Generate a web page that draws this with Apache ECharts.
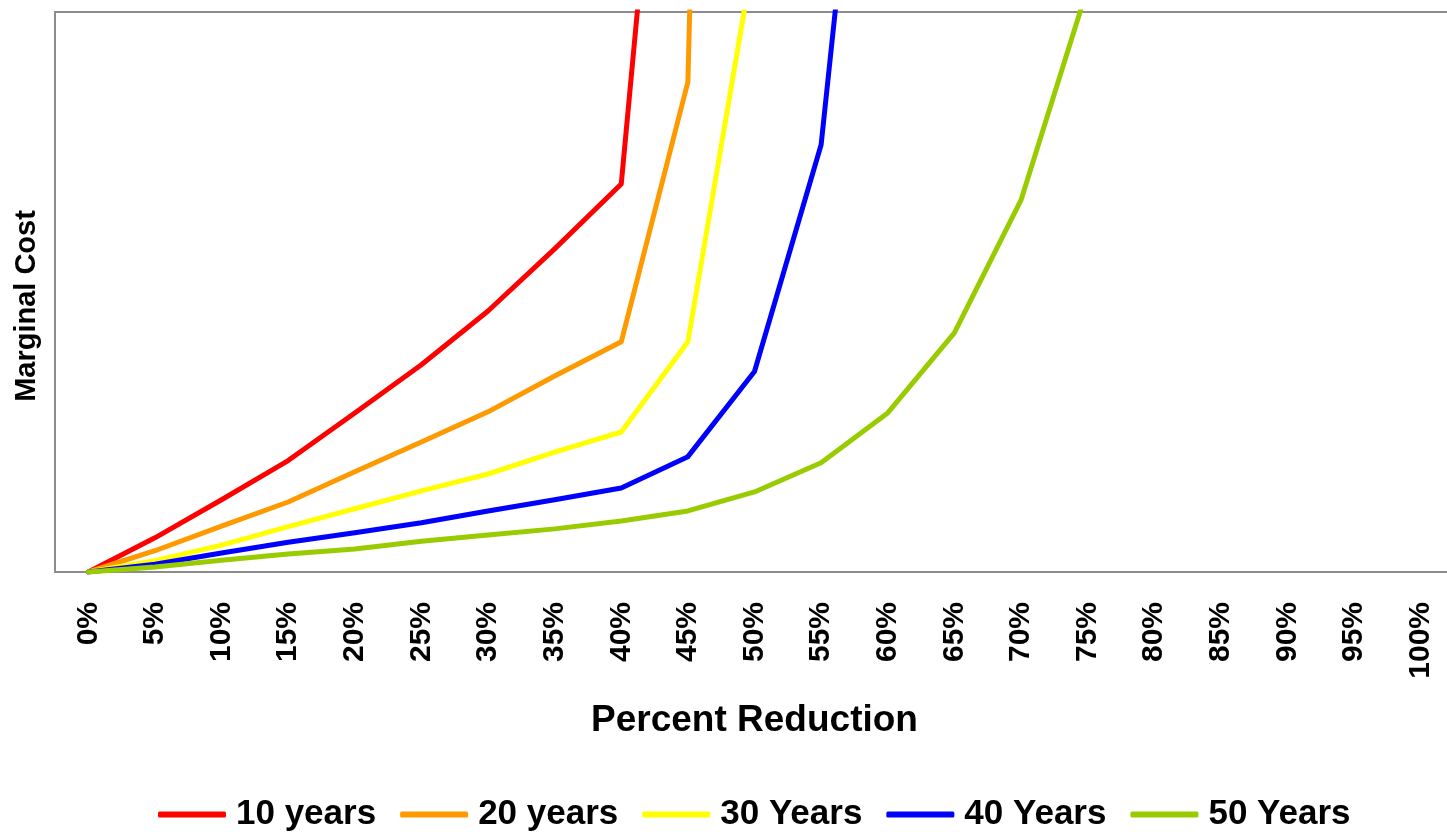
<!DOCTYPE html>
<html>
<head>
<meta charset="utf-8">
<title>Marginal Cost</title>
<script src="https://cdn.jsdelivr.net/npm/echarts@6/dist/echarts.min.js"></script>
<style>
  html, body { margin: 0; padding: 0; background: #fff; }
  #chart { width: 1447px; height: 832px; }
</style>
</head>
<body>
<div id="chart"></div>
<script>
// x categories
const percents = ["0%", "5%", "10%", "15%", "20%", "25%", "30%", "35%", "40%", "45%", "50%",
  "55%", "60%", "65%", "70%", "75%", "80%", "85%", "90%", "95%", "100%"];

// series values (y axis has no labels, read as 0..100 of the plot height)
const years10 = [0, 6.1, 12.9, 19.9, 28.4, 37.0, 46.6, 57.7, 69.3, 197];
const years20 = [0, 3.8, 8.2, 12.5, 17.9, 23.2, 28.6, 35.0, 41.1, 87.5, 550];
const years30 = [0, 2.0, 4.8, 8.1, 11.3, 14.5, 17.5, 21.4, 25.0, 41.1, 111];
const years40 = [0, 1.4, 3.4, 5.3, 7.0, 8.8, 10.9, 12.9, 15.0, 20.6, 35.8, 76.3, 189];
const years50 = [0, 0.9, 2.1, 3.2, 4.1, 5.5, 6.6, 7.7, 9.1, 10.9, 14.3, 19.5, 28.4, 42.7, 66.4, 104.3];

const seriesNames = ["10 years", "20 years", "30 Years", "40 Years", "50 Years"];
const seriesColors = ["#ff0000", "#ff9900", "#ffff00", "#0000ff", "#99cc00"];
const seriesData = [years10, years20, years30, years40, years50];

const font = "'Liberation Sans', Arial, sans-serif";

const chart = echarts.init(document.getElementById("chart"));

const option = {
  animation: false,
  textStyle: { fontFamily: font },
  grid: {
    left: 55,
    top: 12,
    width: 1399,
    height: 560,
    containLabel: false,
    outerBoundsMode: "none",
    show: true,
    borderColor: "#8c8c8c",
    borderWidth: 2,
    backgroundColor: "#fff"
  },
  legend: {
    top: 792,
    left: 153,
    icon: "roundRect",
    itemWidth: 68,
    itemHeight: 6,
    itemGap: 24,
    data: seriesNames,
    textStyle: {
      fontFamily: font,
      fontSize: 35,
      fontWeight: "bold",
      color: "#000",
      padding: [0, 0, 0, 5]
    }
  },
  xAxis: {
    type: "category",
    boundaryGap: true,
    data: percents,
    axisLine: { show: false },
    axisTick: { show: false },
    axisLabel: {
      interval: 0,
      rotate: 90,
      margin: 30,
      fontFamily: font,
      fontSize: 30,
      fontWeight: "bold",
      color: "#000"
    },
    name: "Percent Reduction",
    nameLocation: "middle",
    nameGap: 130,
    nameTextStyle: {
      fontFamily: font,
      fontSize: 37,
      fontWeight: "bold",
      color: "#000"
    }
  },
  yAxis: {
    type: "value",
    min: 0,
    max: 100,
    axisLine: { show: false },
    axisTick: { show: false },
    axisLabel: { show: false },
    splitLine: { show: false }
  },
  graphic: [
    {
      type: "text",
      x: 27,
      y: 306,
      rotation: Math.PI / 2,
      style: {
        text: "Marginal Cost",
        fontFamily: font,
        fontSize: 29,
        fontWeight: "bold",
        fill: "#000",
        align: "center",
        verticalAlign: "middle"
      }
    }
  ],
  series: seriesNames.map((name, i) => ({
    name: name,
    type: "line",
    data: seriesData[i],
    symbol: "none",
    clip: true,
    color: seriesColors[i],
    lineStyle: { width: 5, color: seriesColors[i], cap: "round", join: "round" }
  }))
};

chart.setOption(option);
</script>
</body>
</html>
